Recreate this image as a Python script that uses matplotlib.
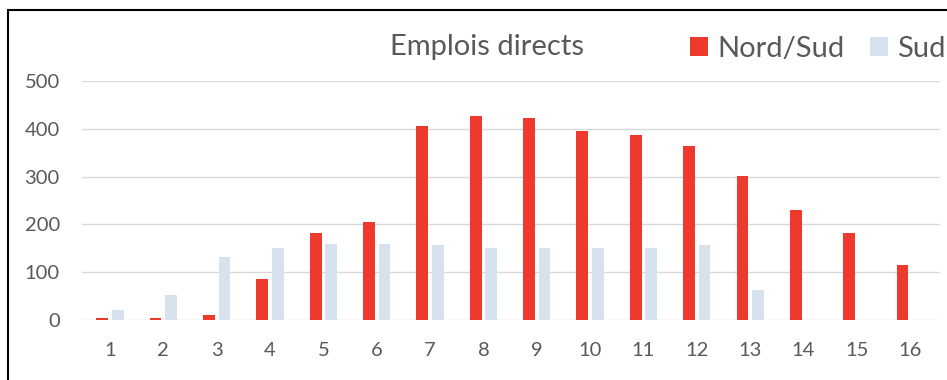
import numpy as np
import matplotlib as mpl
import matplotlib.pyplot as plt
from matplotlib.patches import Rectangle

# values
categories = list(range(1, 17))
nord_sud = [5, 5, 10, 85, 183, 205, 405, 427, 422, 395, 387, 365, 302, 230, 182, 115]
sud = [21, 52, 132, 150, 160, 160, 157, 150, 150, 150, 150, 157, 63, 0, 0, 0]
y_ticks = [0, 100, 200, 300, 400, 500]

RED = '#ee3a2d'
BLUE = '#d6e2ed'
GREY = '#595959'

plt.rcParams['font.family'] = ['Lato', 'DejaVu Sans']

fig = plt.figure(figsize=(9.47, 3.80), dpi=100)
ax = fig.add_axes([82 / 947, 60 / 380, 858 / 947, 239 / 380])

x = np.array(categories)
w = 0.22
ax.bar(x - 0.145, nord_sud, width=w, color=RED, label='Nord/Sud', zorder=3)
ax.bar(x + 0.145, sud, width=w, color=BLUE, label='Sud', zorder=3)

ax.set_xlim(0.475, 16.56)
ax.set_ylim(0, 500)
ax.set_xticks(categories)
ax.set_yticks(y_ticks)
ax.grid(axis='y', color='#d9d9d9', linewidth=1.0, zorder=0)
ax.set_axisbelow(True)
for s in ax.spines.values():
    s.set_visible(False)
ax.tick_params(axis='both', length=0, labelsize=14.5, colors=GREY)
ax.tick_params(axis='x', pad=16)
ax.tick_params(axis='y', pad=16)

fig.text(487 / 947, 1 - 55 / 380, 'Emplois directs', ha='center', va='baseline',
         fontsize=21, color=GREY)

fig.legend(loc='center left', bbox_to_anchor=(690 / 947, 1 - 49 / 380), ncol=2,
           frameon=False, fontsize=21, labelcolor=GREY, handlelength=0.62,
           handleheight=0.62, handletextpad=0.32, columnspacing=0.86,
           borderaxespad=0, borderpad=0)

# outer frame, cut by the picture's right and bottom edges
fig.add_artist(Rectangle((8 / 947, -0.1), 1.2, 1 - 10 / 380 + 0.1,
                         transform=fig.transFigure, fill=False,
                         edgecolor='black', linewidth=1.5, clip_on=False))

fig.savefig('out.png', dpi=100)
